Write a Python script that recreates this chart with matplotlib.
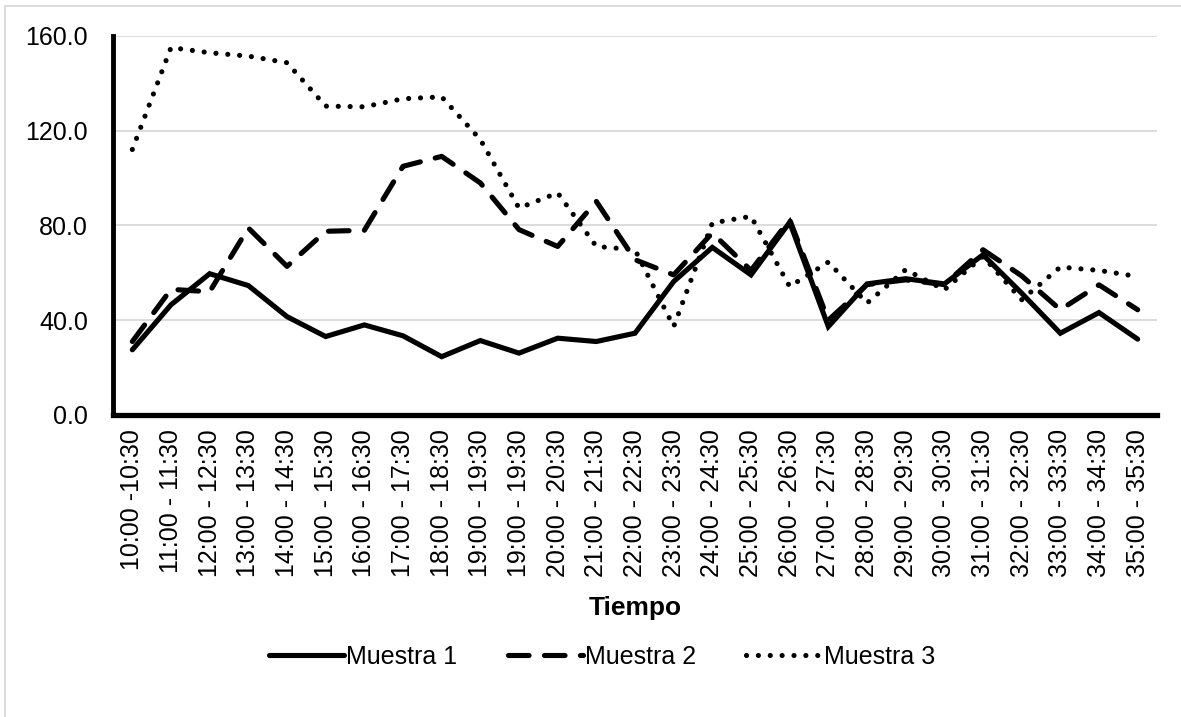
import matplotlib
matplotlib.use("Agg")
import matplotlib.pyplot as plt
from matplotlib.patches import Rectangle

plt.rcParams['font.family'] = ['Liberation Sans', 'DejaVu Sans']

categories = ["10:00 -10:30", "11:00 - 11:30", "12:00 - 12:30", "13:00 - 13:30",
              "14:00 - 14:30", "15:00 - 15:30", "16:00 - 16:30", "17:00 - 17:30",
              "18:00 - 18:30", "19:00 - 19:30", "19:00 - 19:30", "20:00 - 20:30",
              "21:00 - 21:30", "22:00 - 22:30", "23:00 - 23:30", "24:00 - 24:30",
              "25:00 - 25:30", "26:00 - 26:30", "27:00 - 27:30", "28:00 - 28:30",
              "29:00 - 29:30", "30:00 - 30:30", "31:00 - 31:30", "32:00 - 32:30",
              "33:00 - 33:30", "34:00 - 34:30", "35:00 - 35:30"]

muestra1 = [27.5, 46.5, 59.6, 54.6, 41.5, 33.1, 38.0, 33.4, 24.6, 31.4,
            26.1, 32.4, 31.0, 34.5, 56.3, 70.7, 59.1, 81.3, 37.3, 55.3,
            57.5, 55.3, 67.6, 51.4, 34.5, 43.2, 32.0]
muestra2 = [31.0, 53.0, 52.0, 78.9, 62.7, 77.5, 77.9, 104.9, 109.1, 97.9,
            78.2, 71.1, 90.1, 65.5, 59.1, 76.8, 61.0, 82.4, 40.0, 55.0,
            57.0, 55.0, 69.7, 58.7, 44.4, 54.9, 44.4]
muestra3 = [112.0, 155.0, 152.8, 151.4, 148.6, 130.3, 130.0, 133.4, 134.2, 116.2,
            87.3, 93.7, 71.1, 69.7, 37.3, 81.0, 83.8, 54.2, 64.5, 47.2,
            61.3, 52.8, 66.9, 48.6, 62.4, 61.0, 58.4]

yticks = [0, 40, 80, 120, 160]

W, H = 1181, 717
fig = plt.figure(figsize=(W / 100, H / 100), dpi=100)
ax = fig.add_axes([113 / W, 1 - 415 / H, (1157 - 113) / W, (415 - 35.7) / H])

x = list(range(len(categories)))
lw = 3.7
l1, = ax.plot(x, muestra1, color='black', lw=lw, solid_joinstyle='miter',
              solid_capstyle='round', label='Muestra 1', zorder=3)
l2, = ax.plot(x, muestra2, color='black', lw=lw, dashes=(4.0, 3.0),
              dash_capstyle='round', label='Muestra 2', zorder=3)
l3, = ax.plot(x, muestra3, color='black', lw=lw, dashes=(0.01, 2.3),
              dash_capstyle='round', label='Muestra 3', zorder=3)

ax.set_xlim(-0.5, len(categories) - 0.5)
ax.set_ylim(0, 160)
ax.set_yticks(yticks)
ax.set_yticklabels([f"{v:.1f}" for v in yticks])
ax.set_xticks(x)
ax.set_xticklabels(categories, rotation=90, va='top', ha='center')
ax.tick_params(axis='both', length=0, labelsize=18)
ax.tick_params(axis='y', pad=18)
ax.tick_params(axis='x', pad=10)

ax.grid(axis='y', color='#d9d9d9', lw=1.3, zorder=0)
ax.set_axisbelow(True)
for s in ['top', 'right']:
    ax.spines[s].set_visible(False)
ax.spines['left'].set_linewidth(3.5)
ax.spines['bottom'].set_linewidth(3.8)
ax.spines['left'].set_zorder(4)
ax.spines['bottom'].set_zorder(4)

ax.set_xlabel('Tiempo', fontsize=19, fontweight='bold', labelpad=14)

leg = fig.legend(handles=[l1, l2, l3], loc='center',
                 bbox_to_anchor=(602 / W, 1 - 657 / H), bbox_transform=fig.transFigure,
                 ncol=3, frameon=False, fontsize=18, handlelength=3.0,
                 handletextpad=0.1, columnspacing=2.0)

# chart area border
fig.patches.append(Rectangle((5 / W, -0.05), 1.1, 1 - 6 / H + 0.05,
                             transform=fig.transFigure, fill=False,
                             edgecolor='#d9d9d9', lw=1.3))

fig.savefig('out.png', dpi=100)
